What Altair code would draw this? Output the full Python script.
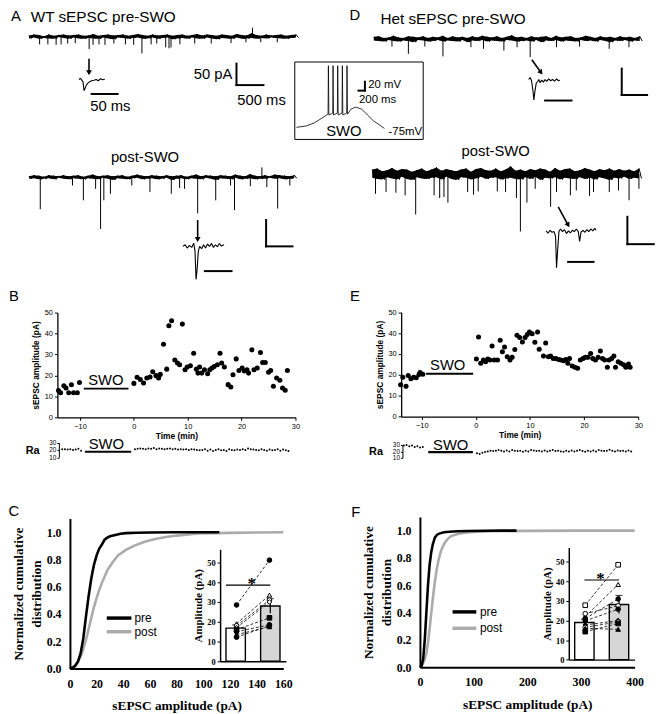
import altair as alt
import pandas as pd

# ======================= DATA =======================
# ---- A / D : voltage-clamp traces (pA vs ms). Noise = baseline samples,
#      events = (time ms, peak pA) of sEPSCs sticking out of the noise band
A_PRE_NOISE = [
    3, -4, 5, -2, 4, -5, 1, -3, 5, -4, 2, -5, 4, -1, 5, -3, 3, -5, 4, -2,
    5, -4, 2, -5, 3, -3, 6, -4, 2, -5, 4, -2, 5, -4, 3, -6, 4, -2, 5, -3,
    2, -5, 4, -3, 6, -2, 4, -5, 2, -4, 5, -2, 3, -5, 4, -3, 5, -2, 2, -6,
    4, -4, 5, -3, 2, -5, 4, -2, 6, -4, 3, -5, 5, -2, 4, -4, 2, -6, 5, -3,
    4, -4, 2, -5, 6, -2, 4, -5, 3, -4, 8, -3, 4, -5, 2, -3, 5, -4, 3, -2,
    4, -3, 5, -4, 2, -5, 4, -3, 5, -2]
A_PRE_EV_T = [196, 349, 502, 594, 716, 857, 1114, 1187, 1297, 1408, 1573, 1787, 1940, 2093,
              2264, 2368, 2534, 2595, 2632, 2797, 3072, 3378, 3745, 4021, 4143, 4296, 4602]
A_PRE_EV_A = [-18, -18, -19, -18, -16, -15, -29, -19, -18, -19, -16, -18, -19, -39,
              -18, -16, -25, -27, -25, -18, -16, -16, -15, -13, 21, -13, -13]
A_PRE_ZOOM_T = [0, 2.5, 5.1, 7.6, 9.5, 11.4, 13.9, 16.5, 20.3, 24.1, 28.5, 32.9, 36.7, 41.3, 45.6, 49.4]
A_PRE_ZOOM_V = [1, 4, -0.5, -5, -25, -19.6, -12, -8, -4, -1.8, -0.5, 1, -1.8, 2.8, 0.5, 1.8]

A_POST_NOISE = [
    2, -3, 4, -2, 3, -4, 1, -3, 4, -2, 3, -4, 2, -1, 4, -3, 2, -4, 3, -2,
    4, -3, 1, -4, 3, -2, 5, -3, 2, -4, 3, -1, 4, -3, 2, -5, 3, -2, 4, -3,
    1, -4, 3, -2, 5, -1, 3, -4, 2, -3, 4, -2, 3, -4, 2, -3, 4, -1, 2, -5,
    3, -3, 4, -2, 1, -4, 3, -2, 5, -3, 2, -4, 4, -1, 3, -3, 2, -5, 4, -2,
    3, -3, 2, -4, 5, -1, 3, -4, 2, -3, 6, -2, 3, -4, 2, -3, 4, -3, 2, -1,
    5, -3, 4, -2, 3, -4, 2, -3, 4, -2]
A_POST_EV_T = [213, 824, 1030, 1262, 1356, 1418, 1543, 1948, 2292, 2697, 2854, 2948, 3197,
               3539, 3820, 3895, 4195, 4414, 4508, 4713, 4944]
A_POST_EV_A = [-60.5, -15.6, -43.7, -21.9, -98, -43.7, -31.2, -15.6, -28.1, -31.2, -20.6, -21.9, -68.6,
               -43.7, -15.6, -62.4, -16.9, 18.7, -18.7, -59.3, -15.6]
A_POST_ZOOM_T = [0, 4.3, 8, 12.3, 16.7, 20.4, 22.8, 24.7, 26.5, 29, 31.5, 35.2, 38.9, 42.6, 46.3,
                 50, 53.7, 57.4, 61.1, 64.8, 68.5, 72.2, 77.2]
A_POST_ZOOM_V = [0, 3.1, -3.1, 1.9, -1.9, 6.2, -9.4, -62.4, -46.8, -9.4, 0, -4.4, 3.1, -3.1, 4.4,
                 0, 5.6, -1.9, 3.1, -0.6, 5.6, 0.6, 3.1]

D_PRE_NOISE = [
    4, -3, 5, -4, 2, -5, 3, -2, 6, -4, 3, -5, 2, -3, 5, -4, 4, -6, 3, -2,
    5, -3, 2, -5, 4, -4, 3, -2, 6, -5, 2, -3, 5, -4, 3, -5, 4, -2, 2, -6,
    5, -3, 3, -4, 6, -2, 4, -5, 3, -3, 5, -4, 2, -5, 4, -2, 7, -3, 3, -5,
    4, -4, 2, -3, 5, -5, 3, -2, 4, -6, 5, -3, 2, -4, 6, -2, 3, -5, 4, -3,
    5, -4, 2, -5, 3, -2, 6, -4, 4, -3, 2, -5, 5, -2, 3, -4, 4, -6, 2, -3,
    5, -4, 3, -2, 4, -5, 2, -3, 5, -4]
D_PRE_EV_T = [358, 681, 1005, 1362, 1913, 2160, 2562, 2821, 3080, 3599, 4053, 4636, 5025]
D_PRE_EV_A = [-14.4, -28.1, -14.4, -33.1, -15.6, -18.7, -21.9, -15.6, -34.3, -15.6, -14.4, -18.7, -15.6]
D_PRE_ZOOM_T = [0, 3.1, 5.6, 8.1, 10, 11.9, 14.4, 16.9, 19.4, 21.9, 25, 28.1, 31.2, 34.3, 38.1,
                41.8, 45.5, 49.3, 53, 56.8, 59.3]
D_PRE_ZOOM_V = [2.4, 6.2, 0, -17.5, -36.3, -20.6, -5, -1.9, 2.4, -3.7, 1.2, -2.6, 2.4, -1.3, 3.7,
                0, 2.4, -0.6, 3.7, 0, 1.2]

D_POST_NOISE = [
    8, -7, 10, -9, 5, -10, 7, -6, 11, -8, 6, -10, 9, -5, 8, -9, 4, -11, 7, -6,
    10, -8, 5, -9, 8, -7, 12, -6, 6, -10, 9, -5, 7, -9, 5, -11, 8, -6, 10, -7,
    4, -10, 9, -8, 11, -5, 7, -9, 6, -7, 10, -6, 5, -10, 8, -8, 14, -7, 6, -9,
    8, -10, 5, -6, 9, -9, 7, -5, 10, -11, 8, -7, 4, -8, 11, -6, 6, -10, 9, -7,
    10, -8, 5, -9, 7, -6, 11, -9, 8, -7, 5, -10, 9, -6, 7, -8, 10, -11, 6, -7,
    9, -8, 6, -5, 8, -9, 5, -7, 10, -8]
D_POST_EV_T = [62, 262, 449, 624, 824, 1173, 1279, 1360, 1435, 1809, 1921, 2009, 2371, 2528,
               2734, 2809, 2933, 3090, 3382, 3494, 3757, 3869, 4120, 4195, 4494, 4669, 4869, 5056]
D_POST_EV_A = [-36.1, -33, -34.3, -39, -74, -39, -43.9, -42.1, -52.3, -33, -37.9, -31.8, -31.8, -33,
               -43.9, -105, -52.3, -27, -60, -33, -39, -30, -40, -33, -33, -30, -48, -27]
D_POST_ZOOM_T = [0, 3.9, 7.8, 11.7, 15.6, 18.7, 20.6, 22.6, 25.3, 28.4, 32.3, 36.2, 40.1, 44, 47.9,
                 51.8, 55.6, 59.5, 63.4, 66.1, 68.7, 72.6, 76.5, 80.4, 84.2, 88.1, 92, 95.9, 98.4]
D_POST_ZOOM_V = [1.2, -3, 2.4, -1.2, 0, -9, -66.2, -36.1, 0, 4.8, 0, 3.6, -3.6, 1.2, -2.4,
                 2.4, 0, 4.8, 0, -18, -1.2, 2.4, -1.2, 3.6, 0, 4.8, 1.2, 6, 2.4]

# ---- SWO inset: membrane potential (mV vs ms), six spikes on the up-state
SWO_T = [0, 308, 554, 800, 985, 995, 1010, 1130, 1140, 1155, 1275, 1285, 1300, 1420, 1430, 1445,
         1565, 1575, 1590, 1700, 1846, 2031, 2215, 2400, 2585, 2740]
SWO_V = [-71.7, -68.3, -61.7, -50.6, -41.7, 67.2, -43.9, -39.4, 67.2, -43.9, -39.4, 67.2, -43.9,
         -39.4, 67.2, -43.9, -39.4, 67.2, -42, -30.6, -26.1, -30.6, -43.9, -57.2, -66.1, -74]

# ---- B / E : sEPSC amplitude (pA) vs time (min)
B_T = [-14.0, -13.6, -13.0, -12.6, -12.1, -11.6, -11.2, -10.5, -10.1,
       0.0, 0.6, 1.2, 1.8, 2.4, 3.0, 3.5, 4.1, 4.6, 4.9, 5.5, 6.1, 6.5, 7.0, 7.6, 8.1, 8.5, 9.0, 9.5, 9.9,
       10.5, 11.1, 11.6, 11.9, 12.2, 12.6, 13.1, 13.7, 14.1, 14.5, 14.9, 15.5, 16.0, 16.3, 16.8, 17.5,
       18.0, 18.4, 19.0, 19.5, 20.1, 20.5, 21.0, 21.3, 21.9, 22.3, 22.9, 23.5, 23.9, 24.4, 25.0, 25.4,
       25.9, 26.5, 27.1, 27.6, 28.1, 28.5]
B_AMP = [12.8, 11.7, 15.1, 14.0, 11.7, 15.5, 11.7, 11.7, 16.6,
         16.2, 19.1, 18.0, 16.4, 18.8, 19.2, 21.8, 19.9, 18.8, 20.5, 34.9, 23.0, 43.7, 46.1, 27.4, 25.9,
         25.1, 44.5, 22.7, 24.0, 24.6, 30.6, 23.0, 21.1, 24.0, 21.1, 22.7, 20.8, 22.7, 23.5, 24.3, 25.1,
         30.6, 25.9, 24.0, 15.6, 14.5, 20.3, 27.9, 22.4, 23.5, 22.1, 22.7, 21.1, 32.2, 22.7, 23.5, 30.9,
         26.2, 26.2, 21.5, 22.4, 14.8, 18.8, 17.7, 14.0, 12.9, 22.4]
E_T = [-13.9, -13.5, -12.9, -12.5, -12.0, -11.5, -11.0, -10.5, -10.3, -9.8,
       0.1, 0.5, 0.9, 1.4, 1.8, 2.2, 2.6, 3.0, 3.4, 4.0, 4.5, 4.9, 5.3, 5.8, 6.3, 6.7, 7.2, 7.6, 8.1,
       8.6, 9.1, 9.5, 9.9, 10.4, 10.9, 11.4, 11.7, 12.5, 12.9, 13.4, 13.8, 14.3, 14.8, 15.3, 15.7,
       16.2, 16.6, 17.0, 17.3, 17.8, 18.3, 18.8, 19.3, 19.8, 20.2, 20.7, 21.2, 21.6, 22.1, 22.6, 23.0,
       23.4, 23.8, 24.3, 24.6, 25.1, 25.5, 25.8, 26.3, 26.8, 27.3, 27.7, 28.2, 28.5]
E_AMP = [15.3, 18.9, 14.5, 19.7, 18.1, 18.9, 18.6, 20.2, 21.1, 20.3,
         27.6, 38.2, 25.6, 27.1, 26.3, 27.6, 27.1, 33.8, 27.1, 27.1, 36.6, 31.1, 33.4, 28.7, 27.1, 28.4,
         32.2, 39.0, 37.9, 35.8, 37.9, 39.4, 40.5, 39.7, 35.6, 40.5, 32.3, 29.0, 35.3, 28.7, 29.0, 27.9,
         27.8, 27.4, 27.1, 26.8, 27.4, 25.6, 27.8, 24.3, 23.7, 23.2, 27.1, 27.9, 28.4, 28.4, 30.3, 27.8,
         27.1, 28.4, 31.5, 27.9, 27.1, 23.7, 27.1, 27.8, 29.0, 23.7, 26.3, 25.6, 24.9, 23.7, 25.2, 23.7]

# ---- series resistance Ra (MOhm), one value every 0.5 min
B_RA_PRE = [21, 21, 20.5, 21, 20, 20.5, 21.5, 19]
B_RA_POST = [21, 21.5, 22, 21.5, 21, 22, 21.5, 22.5, 21, 22, 21.5, 21, 21.5, 22, 21, 21.5, 20.5, 21,
             20.5, 21, 20, 21, 20.5, 20, 19.5, 20, 21, 19, 20.5, 18.5, 20, 21, 19.5, 20, 18.5, 21, 20,
             19.5, 20.5, 20, 21, 20, 22, 21, 20.5, 20, 19.5, 21, 20, 19, 20.5, 19.5, 20, 21, 19, 20.5,
             19.5, 18.5]
E_RA_PRE = [29, 30, 28, 29, 27, 28, 26, 27]
E_RA_POST = [17, 16, 18, 19, 20, 21, 20.5, 21, 22, 21, 20, 21.5, 20, 22, 21, 20.5, 21, 19.5, 21, 20,
             22, 21.5, 20.5, 21, 20, 21.5, 20, 21, 22, 20.5, 21, 20, 19.5, 21, 20, 21.5, 20, 21, 22,
             20.5, 19.5, 21, 20, 21.5, 20, 22, 21, 20.5, 21, 22.5, 21, 20, 21.5, 20.5, 21, 20, 21.5, 20]
RA_PRE_START, RA_POST_START, RA_STEP = -13.3, 0.2, 0.5

# ---- C / F : cumulative distributions of sEPSC amplitude
C_AMP_PRE = [0, 2, 4, 6, 8, 10, 12, 14, 16, 18, 20, 22, 24, 26, 28, 30, 34, 38, 42, 50, 60, 80, 100, 112]
C_CUM_PRE = [0, 0.005, 0.02, 0.05, 0.11, 0.22, 0.38, 0.53, 0.66, 0.76, 0.83, 0.88, 0.91, 0.945, 0.96,
             0.97, 0.98, 0.988, 0.993, 0.996, 0.998, 0.999, 1.0, 1.0]
C_AMP_POST = [0, 3, 6, 9, 12, 15, 18, 21, 24, 28, 32, 36, 42, 48, 56, 64, 72, 80, 96, 120, 140, 160]
C_CUM_POST = [0, 0.015, 0.05, 0.11, 0.21, 0.33, 0.45, 0.55, 0.63, 0.72, 0.78, 0.83, 0.87, 0.90, 0.93,
              0.95, 0.965, 0.975, 0.99, 0.995, 0.998, 1.0]
F_AMP_PRE = [0, 3, 6, 9, 12, 15, 18, 21, 24, 28, 32, 37, 45, 55, 70, 90, 120, 150, 180]
F_CUM_PRE = [0, 0.007, 0.06, 0.2, 0.4, 0.6, 0.75, 0.84, 0.9, 0.95, 0.97, 0.98, 0.988, 0.992, 0.995,
             0.997, 0.999, 1.0, 1.0]
F_AMP_POST = [0, 3, 6, 9, 12, 15, 18, 21, 24, 27, 31, 35, 40, 46, 52, 58, 70, 83, 100, 132, 200, 300, 400]
F_CUM_POST = [0, 0.01, 0.03, 0.06, 0.1, 0.18, 0.28, 0.39, 0.5, 0.6, 0.71, 0.79, 0.86, 0.91, 0.94, 0.96,
              0.975, 0.985, 0.99, 0.995, 0.998, 1.0, 1.0]

# ---- insets: mean amplitude per cell, pre vs post (pA)
CONDS = ["pre", "post"]
C_CELL_PRE = [28.5, 19, 18, 17, 16, 15, 13.5, 12.2]
C_CELL_POST = [51.2, 33.5, 31, 30, 22, 18.5, 17.5, 18]
C_MEAN = [16.8, 28.0]
C_SEM = [1.6, 3.7]
F_CELL_PRE = [27.8, 22, 21, 23.5, 19.8, 17.7, 16.5, 16, 14.3]
F_CELL_POST = [48.5, 38.4, 31, 27.5, 25.8, 20, 19.3, 15.5, 18.5]
F_MEAN = [19.0, 28.2]
F_SEM = [1.6, 4.6]

# marker styles of the cells (style, not data)
C_SHAPES = ["circle", "triangle-up", "circle", "diamond", "square", "circle", "triangle-up", "circle"]
C_FILLS = ["black", "white", "white", "white", "black", "black", "black", "black"]
F_SHAPES = ["square", "triangle-up", "circle", "circle", "circle", "diamond", "circle", "triangle-up", "square"]
F_FILLS = ["white", "white", "black", "white", "black", "black", "white", "black", "black"]

# ======================= LAYOUT HELPERS =======================
W, H = 658, 706
SANS = "Liberation Sans"
SERIF = "Liberation Serif"


def P(v):  # page pixel -> chart pixel
    return v - 8


def lin(dom, r0, r1):
    return alt.Scale(domain=list(dom), range=[P(r0), P(r1)], nice=False, zero=False)


def free_text(txt, x, y, size, align="left", weight="normal", font=SANS):
    return alt.Chart(pd.DataFrame({"s": [txt]})).mark_text(
        align=align, baseline="middle", fontSize=size, fontWeight=weight, font=font, color="black"
    ).encode(x=alt.value(P(x)), y=alt.value(P(y)), text="s:N")


def dtext(txt, x, y, xs, ys, size, align="center", weight="normal", font=SANS):
    return alt.Chart(pd.DataFrame({"x": [x], "y": [y], "s": [txt]})).mark_text(
        align=align, baseline="middle", fontSize=size, fontWeight=weight, font=font, color="black"
    ).encode(x=alt.X("x:Q", scale=xs, axis=None), y=alt.Y("y:Q", scale=ys, axis=None), text="s:N")


def segs(rows, xs, ys, sw=2, color="black", cap="square"):
    df = pd.DataFrame(rows, columns=["x", "x2", "y", "y2"])
    return alt.Chart(df).mark_rule(color=color, strokeWidth=sw, strokeCap=cap).encode(
        x=alt.X("x:Q", scale=xs, axis=None), x2="x2:Q",
        y=alt.Y("y:Q", scale=ys, axis=None), y2="y2:Q")


def arrow(x1, y1, x2, y2, xs, ys, angle=0):
    shaft = segs([[x1, x2, y1, y2]], xs, ys, sw=1.6, cap="butt")
    head = alt.Chart(pd.DataFrame({"x": [x2], "y": [y2]})).mark_point(
        shape="triangle-down", filled=True, size=34, angle=angle, color="black", opacity=1
    ).encode(x=alt.X("x:Q", scale=xs, axis=None), y=alt.Y("y:Q", scale=ys, axis=None))
    return [shaft, head]


def trace(noise, ev_t, ev_a, x0, ppms, base, ppa, T, ymin, ymax, lw=1.0):
    xs = lin([0, T], x0, x0 + T * ppms)
    ys = lin([ymin, ymax], base - ymin * ppa, base - ymax * ppa)
    n = len(noise)
    ts = [T * i / (n - 1) for i in range(n)]
    X = alt.X("t:Q", scale=xs, axis=None)
    # min/max envelope of each pair of samples (how a dense trace is drawn on screen)
    env = pd.DataFrame({"t": ts[0:n - 1:2],
                        "lo": [min(noise[k], noise[k + 1]) for k in range(0, n - 1, 2)],
                        "hi": [max(noise[k], noise[k + 1]) for k in range(0, n - 1, 2)]})
    band = alt.Chart(env).mark_area(color="black", opacity=1).encode(
        x=X, y=alt.Y("lo:Q", scale=ys, axis=None), y2="hi:Q")
    line = alt.Chart(pd.DataFrame({"t": ts, "v": noise})).mark_line(
        color="black", strokeWidth=lw, strokeJoin="bevel").encode(x=X, y=alt.Y("v:Q", scale=ys, axis=None))
    ev = pd.DataFrame({"t": ev_t, "v": ev_a, "z": [0] * len(ev_t)})
    spk = alt.Chart(ev).mark_rule(color="black", strokeWidth=1).encode(
        x=X, y=alt.Y("z:Q", scale=ys, axis=None), y2="v:Q")
    return xs, ys, [band, line, spk]


def zoom_trace(ts, vs, x0, ppms, base, ppa, T, ymin, ymax):
    xs = lin([0, T], x0, x0 + T * ppms)
    ys = lin([ymin, ymax], base - ymin * ppa, base - ymax * ppa)
    line = alt.Chart(pd.DataFrame({"t": ts, "v": vs})).mark_line(
        color="black", strokeWidth=1.1, strokeJoin="bevel").encode(
        x=alt.X("t:Q", scale=xs, axis=None), y=alt.Y("v:Q", scale=ys, axis=None))
    return xs, ys, [line]


layers = []

# ======================= A (WT traces) =======================
xs, ys, ch = trace(A_PRE_NOISE, A_PRE_EV_T, A_PRE_EV_A, 29.3, 0.0546, 32.7, 0.434, 4995, -120, 40)
layers += ch + [segs([[3846, 3846, -112.9, -62.9], [3846, 4346, -112.9, -112.9]], xs, ys),
                dtext("50 pA", 3770, -88, xs, ys, 15, align="right"),
                dtext("500 ms", 4311, -147, xs, ys, 15)]

xs, ys, ch = zoom_trace(A_PRE_ZOOM_T, A_PRE_ZOOM_V, 80, 0.526, 76.5, 0.434, 80, -40, 60)
layers += ch + arrow(19, 49.5, 19, 17, xs, ys)
layers += [segs([[24, 74, -32.7, -32.7]], xs, ys), dtext("50 ms", 60, -61, xs, ys, 15)]

xs, ys, ch = trace(A_POST_NOISE, A_POST_EV_T, A_POST_EV_A, 29.3, 0.0534, 175, 0.534, 5075, -110, 40)
layers += ch + [segs([[4494, 4494, -131, -81], [4494, 4994, -131, -131]], xs, ys)]

xs, ys, ch = zoom_trace(A_POST_ZOOM_T, A_POST_ZOOM_V, 185, 0.54, 245, 0.534, 80, -70, 60)
layers += ch + arrow(27.8, 50, 27.8, 13, xs, ys)
layers += [segs([[41.3, 91.3, -46.8, -46.8]], xs, ys)]

# ======================= D (Het traces) =======================
xs, ys, ch = trace(D_PRE_NOISE, D_PRE_EV_T, D_PRE_EV_A, 378.3, 0.0514, 35, 0.534, 5286, -110, 40)
layers += ch + [segs([[4883, 4883, -106.2, -56.2], [4883, 5383, -106.2, -106.2]], xs, ys)]

xs, ys, ch = zoom_trace(D_PRE_ZOOM_T, D_PRE_ZOOM_V, 535, 0.534, 77.3, 0.534, 60, -40, 45)
layers += ch + arrow(6.2, 39.9, 23.5, 15.5, xs, ys, angle=324)
layers += [segs([[31.3, 81.3, -37.5, -37.5]], xs, ys)]

xs, ys, ch = trace(D_POST_NOISE, D_POST_EV_T, D_POST_EV_A, 376.7, 0.0534, 171.7, 0.554, 5105, -110, 40)
layers += ch + [segs([[4837, 4837, -128.2, -78.2], [4837, 5337, -128.2, -128.2]], xs, ys)]

xs, ys, ch = zoom_trace(D_POST_ZOOM_T, D_POST_ZOOM_V, 552.7, 0.514, 230, 0.554, 100, -70, 50)
layers += ch + arrow(23.9, 45.1, 43.5, 12, xs, ys, angle=331)
layers += [segs([[43.4, 93.4, -55.4, -55.4]], xs, ys)]

# ======================= SWO inset =======================
sx = lin([-100, 4000], 300 - 100 * 0.0325, 300 + 4000 * 0.0325)
sy = lin([-100, 80], 126 + 25 * 0.45, 126 - 155 * 0.45)
layers += [
    alt.Chart(pd.DataFrame({"x": [-52], "x2": [3948], "y": [-98.8], "y2": [75.4]})).mark_rect(
        fillOpacity=0, stroke="black", strokeWidth=1).encode(
        x=alt.X("x:Q", scale=sx, axis=None), x2="x2:Q", y=alt.Y("y:Q", scale=sy, axis=None), y2="y2:Q"),
    alt.Chart(pd.DataFrame({"t": SWO_T, "v": SWO_V})).mark_line(
        color="black", strokeWidth=0.8, strokeJoin="bevel").encode(
        x=alt.X("t:Q", scale=sx, axis=None), y=alt.Y("v:Q", scale=sy, axis=None)),
    segs([[2132, 2132, 11, 31], [1932, 2132, 11, 11]], sx, sy, sw=2),
    dtext("20 mV", 2237, 22.8, sx, sy, 11.5, align="left"),
    dtext("200 ms", 1948, -9.9, sx, sy, 11.5, align="left"),
    dtext("SWO", 1477, -79.4, sx, sy, 15),
    dtext("-75mV", 2870, -81.7, sx, sy, 11.5, align="left"),
]

# ======================= B / E scatter + Ra =======================
small_axis = dict(labelFont=SANS, labelFontSize=7.5, titleFont=SANS, titleFontSize=8.5,
                  titleFontWeight="bold", tickSize=3, domainColor="black", tickColor="black",
                  labelColor="black", titleColor="black", grid=False, labelFlush=False,
                  labelOverlap=False, domainWidth=1.3, tickWidth=1, labelPadding=2, zindex=1)


def scatter_panel(ts, amps, xdom, xl, xr, y0, y50, swo, swo_lbl):
    xs = lin(xdom, xl, xr)
    ys = lin([0, 50], y0, y50)
    ax_x = alt.Axis(orient="bottom", offset=P(y0) - H, values=[-10, 0, 10, 20, 30],
                    title="Time (min)", titlePadding=2, **small_axis)
    ax_y = alt.Axis(orient="left", offset=-P(xl), values=[0, 10, 20, 30, 40, 50],
                    title="sEPSC amplitude (pA)", titlePadding=4, **small_axis)
    pts = alt.Chart(pd.DataFrame({"t": ts, "a": amps})).mark_circle(
        size=26, color="black", opacity=1).encode(
        x=alt.X("t:Q", scale=xs, axis=ax_x), y=alt.Y("a:Q", scale=ys, axis=ax_y))
    return [pts, segs([[swo[0], swo[1], swo[2], swo[2]]], xs, ys, sw=2, cap="butt"),
            dtext("SWO", swo_lbl[0], swo_lbl[1], xs, ys, 15)]


def ra_panel(pre, post, xdom, xl, xr, y10, y30, ax_x, swo, swo_lbl):
    xs = lin(xdom, xl, xr)
    ys = lin([10, 30], y10, y30)
    ts = [RA_PRE_START + RA_STEP * i for i in range(len(pre))] + \
         [RA_POST_START + RA_STEP * i for i in range(len(post))]
    ax = alt.Axis(orient="left", offset=-P(ax_x), values=[10, 20, 30], title=None,
                  labelFont=SANS, labelFontSize=6.5, tickSize=2, domainColor="black",
                  tickColor="black", labelColor="black", grid=False, domainWidth=1,
                  labelPadding=1, labelFlush=False, labelOverlap=False, zindex=1)
    pts = alt.Chart(pd.DataFrame({"t": ts, "r": pre + post})).mark_circle(
        size=4, color="black", opacity=1).encode(
        x=alt.X("t:Q", scale=xs, axis=None), y=alt.Y("r:Q", scale=ys, axis=ax))
    return [pts, segs([[swo[0], swo[1], swo[2], swo[2]]], xs, ys, sw=2.2, cap="butt"),
            dtext("SWO", swo_lbl[0], swo_lbl[1], xs, ys, 15)]


layers += scatter_panel(B_T, B_AMP, [-14.2, 30], 58, 299, 418, 312, (-9.3, -1.0, 13.7), (-5.2, 18.0))
layers += ra_panel(B_RA_PRE, B_RA_POST, [-14.2, 30], 58, 299, 458.5, 443.5, 59.5,
                   (-9.1, -0.5, 17.5), (-5.1, 27.5))
layers += scatter_panel(E_T, E_AMP, [-13.8, 30], 406, 646, 417.3, 311.7, (-9.2, -0.5, 20.5), (-5.2, 24.8))
layers += ra_panel(E_RA_PRE, E_RA_POST, [-13.8, 30], 406, 646, 459, 446, 407.3,
                   (-8.8, -0.55, 18.8), (-4.65, 30))

# ======================= C / F cumulative + inset =======================
serif_axis = dict(labelFont=SERIF, labelFontWeight="bold", titleFont=SERIF, titleFontWeight="bold",
                  domainColor="black", tickColor="black", labelColor="black", titleColor="black",
                  grid=False, labelFlush=False, labelOverlap=False, zindex=1)


def cum_panel(ap, cp, aq, cq, xmax, xticks, xl, xr, y0, y1, leg):
    xs = lin([0, xmax], xl, xr)
    ys = lin([0, 1.1], y0, y0 - (y0 - y1) * 1.1)
    ax_x = alt.Axis(orient="bottom", offset=P(y0) - H, values=xticks, title="sEPSC amplitude (pA)",
                    labelFontSize=12, titleFontSize=13.5, ticks=False, labelPadding=10,
                    titlePadding=10, domainWidth=2, **serif_axis)
    ax_y = alt.Axis(orient="left", offset=-P(xl), values=[0, 0.2, 0.4, 0.6, 0.8, 1.0], format=".1f",
                    title=["Normalized cumulative", "distribution"], labelFontSize=12,
                    titleFontSize=13.5, titleLineHeight=18, ticks=False, labelPadding=9,
                    titlePadding=3, domainWidth=2, **serif_axis)
    post = alt.Chart(pd.DataFrame({"a": aq, "c": cq})).mark_line(color="#ababab", strokeWidth=2.6).encode(
        x=alt.X("a:Q", scale=xs, axis=None), y=alt.Y("c:Q", scale=ys, axis=None))
    pre = alt.Chart(pd.DataFrame({"a": ap, "c": cp})).mark_line(color="black", strokeWidth=2.6).encode(
        x=alt.X("a:Q", scale=xs, axis=ax_x), y=alt.Y("c:Q", scale=ys, axis=ax_y))
    x1, x2, xt, yp, yq = leg
    return [post, pre,
            segs([[x1, x2, yp, yp]], xs, ys, sw=3.5, cap="butt"),
            segs([[x1, x2, yq, yq]], xs, ys, sw=3.5, cap="butt", color="#ababab"),
            dtext("pre", xt, yp, xs, ys, 12, align="left"),
            dtext("post", xt, yq, xs, ys, 12, align="left")]


def inset_panel(pre, post, shapes, fills, means, sems, sig, sig_from_edge, xl, xr, y0, y50, ytop):
    cells = [str(i) for i in range(len(pre))]
    xs = alt.Scale(domain=CONDS, range=[P(xl), P(xr)], paddingInner=0.44, paddingOuter=0.17)
    ys = lin([0, ytop], y0, y0 - (y0 - y50) * ytop / 50)
    ax_y = alt.Axis(orient="left", offset=-P(xl), values=[0, 10, 20, 30, 40, 50],
                    title="Amplitude (pA)", labelFontSize=8.5, titleFontSize=11, tickSize=3,
                    labelPadding=2, titlePadding=3, domainWidth=1.5, **serif_axis)
    ax_x = alt.Axis(orient="bottom", offset=P(y0) - H, labels=False, ticks=False, title=None,
                    domainWidth=1.5, domainColor="black", zindex=1)
    XN = alt.X("cond:N", scale=xs, sort=CONDS, axis=None)
    bdf = pd.DataFrame({"cond": CONDS, "m": means,
                        "lo": [m - s for m, s in zip(means, sems)],
                        "hi": [m + s for m, s in zip(means, sems)]})
    bars = alt.Chart(bdf).mark_bar(stroke="black", strokeWidth=1.4).encode(
        x=alt.X("cond:N", scale=xs, sort=CONDS, axis=ax_x),
        y=alt.Y("m:Q", scale=ys, axis=ax_y),
        fill=alt.condition(alt.datum.cond == "pre", alt.value("white"), alt.value("#d6d6d6")))
    err = alt.Chart(bdf).mark_rule(color="black", strokeWidth=1.2).encode(
        x=XN, y=alt.Y("lo:Q", scale=ys, axis=None), y2="hi:Q")
    caps = alt.Chart(bdf).mark_tick(color="black", thickness=1.2, size=7, orient="horizontal").encode(
        x=XN, y=alt.Y("hi:Q", scale=ys, axis=None))
    cdf = pd.DataFrame({"cell": cells * 2, "cond": ["pre"] * len(pre) + ["post"] * len(post),
                        "amp": pre + post})
    lines = alt.Chart(cdf).mark_line(color="black", strokeWidth=0.8, strokeDash=[3, 2]).encode(
        x=XN, y=alt.Y("amp:Q", scale=ys, axis=None), detail="cell:N")
    pts = alt.Chart(cdf).mark_point(size=22, stroke="black", strokeWidth=1, opacity=1, filled=True).encode(
        x=XN, y=alt.Y("amp:Q", scale=ys, axis=None),
        shape=alt.Shape("cell:N", scale=alt.Scale(domain=cells, range=shapes), legend=None),
        fill=alt.Fill("cell:N", scale=alt.Scale(domain=cells, range=fills), legend=None))
    sline = alt.Chart(pd.DataFrame({"c1": ["pre"], "c2": ["post"], "y": [sig]})).mark_rule(
        color="black", strokeWidth=1.2).encode(
        x=alt.X("c1:N", scale=xs, sort=CONDS, axis=None, bandPosition=0 if sig_from_edge else 0.5),
        x2=alt.X2("c2:N"), y=alt.Y("y:Q", scale=ys, axis=None))
    star = alt.Chart(pd.DataFrame({"cond": ["post"], "y": [sig], "s": ["*"]})).mark_text(
        fontSize=17, fontWeight="bold", font=SERIF, baseline="middle", dx=-18, dy=-1, color="black").encode(
        x=XN, y=alt.Y("y:Q", scale=ys, axis=None), text="s:N")
    return [bars, lines, err, caps, pts, sline, star]


layers += cum_panel(C_AMP_PRE, C_CUM_PRE, C_AMP_POST, C_CUM_POST, 160,
                    [0, 20, 40, 60, 80, 100, 120, 140, 160], 70.7, 286.7, 672.3, 534.3,
                    (27.6, 46.1, 48.4, 0.37, 0.27))
layers += inset_panel(C_CELL_PRE, C_CELL_POST, C_SHAPES, C_FILLS, C_MEAN, C_SEM, 38.6, True,
                      222.7, 289.3, 665, 565, 56.7)
layers += cum_panel(F_AMP_PRE, F_CUM_PRE, F_AMP_POST, F_CUM_POST, 400,
                    [0, 100, 200, 300, 400], 425, 642.3, 671, 532.7,
                    (60.8, 105, 111.8, 0.405, 0.285))
layers += inset_panel(F_CELL_PRE, F_CELL_POST, F_SHAPES, F_FILLS, F_MEAN, F_SEM, 40.7, False,
                      575.7, 642.3, 663.3, 564.3, 57.3)

# ======================= free labels =======================
layers += [
    free_text("A", 16, 12, 15, align="center"),
    free_text("WT sEPSC pre-SWO", 31, 12.5, 15.5),
    free_text("D", 359, 11, 15, align="center"),
    free_text("Het sEPSC pre-SWO", 385, 15, 15.5),
    free_text("post-SWO", 146.7, 155, 15, align="center"),
    free_text("post-SWO", 501.7, 148.3, 15, align="center"),
    free_text("B", 14, 295, 15, align="center"),
    free_text("E", 359.3, 295, 15, align="center"),
    free_text("C", 14, 513.3, 15, align="center"),
    free_text("F", 360, 514, 15, align="center"),
    free_text("Ra", 33, 452, 11, align="center", weight="bold"),
    free_text("Ra", 380.5, 453, 11, align="center", weight="bold"),
]

chart = alt.layer(*layers).resolve_scale(
    x="independent", y="independent", shape="independent", fill="independent"
).properties(
    width=W, height=H, autosize=alt.AutoSizeParams(type="none"), padding=0, background="white"
).configure_view(stroke=None)

chart.save("out.html", embed_options={"renderer": "svg", "actions": False})
